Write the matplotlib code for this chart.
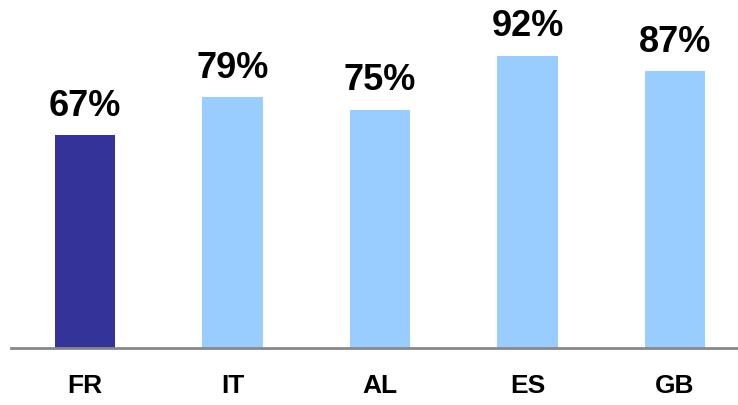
import matplotlib.pyplot as plt

countries = ['FR', 'IT', 'AL', 'ES', 'GB']
shares = [67, 79, 75, 92, 87]
bar_colors = ['#333399', '#99CCFF', '#99CCFF', '#99CCFF', '#99CCFF']

plt.rcParams['font.family'] = ['Liberation Sans', 'DejaVu Sans']

fig = plt.figure(figsize=(7.38, 4.05), dpi=100)
ax = fig.add_axes([0.015, 0.1407, 0.985, 0.785])

x = range(len(countries))
bars = ax.bar(x, shares, width=0.41, color=bar_colors)

for b, v in zip(bars, shares):
    ax.annotate(f'{v}%', (b.get_x() + b.get_width() / 2, v),
                xytext=(0, 8), textcoords='offset points',
                ha='center', va='bottom', fontsize=26, fontweight='bold')

ax.set_xlim(-0.502, 4.427)
ax.set_ylim(0, 100)
ax.set_xticks(list(x))
ax.set_xticklabels(countries, fontsize=19, fontweight='bold')
ax.tick_params(axis='x', length=0, pad=19)
ax.set_yticks([])
for side in ['top', 'right', 'left']:
    ax.spines[side].set_visible(False)
ax.spines['bottom'].set_color('#888888')
ax.spines['bottom'].set_linewidth(2)

fig.savefig('out.png', dpi=100)
